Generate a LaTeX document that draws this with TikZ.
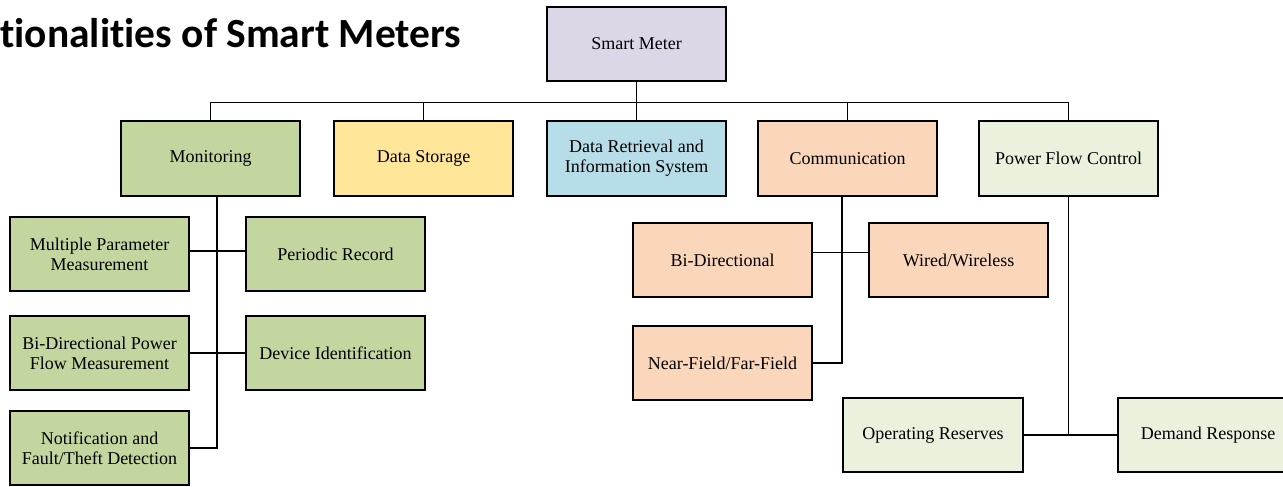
\documentclass[tikz,border=0pt]{standalone}
\usepackage{fontspec}
\setmainfont{Liberation Serif}
\newfontfamily\titlefont{Carlito}[Ligatures=NoCommon]
\begin{document}
\begin{tikzpicture}[x=1pt,y=1pt,yscale=-1,xscale=1,
  box/.style={draw=black,line width=1.8pt,minimum width=179.5pt,minimum height=74.5pt,inner sep=2pt,outer sep=0pt,align=center,font=\fontsize{18}{20}\selectfont},
  link/.style={draw=black,line width=1.6pt}]
\useasboundingbox (0,0) rectangle (1283,487);

% Text Node
\node (title) [anchor=base west,inner sep=0pt,font=\titlefont\bfseries\fontsize{41.5}{45}\selectfont] at (0,47.7) {tionalities of Smart Meters};

%Shape: Rectangle (root and first level)
\node (meter) [box,fill={rgb, 255:red, 221; green, 214; blue, 230 }] at (636.5,44) {Smart Meter};
\node (mon) [box,fill={rgb, 255:red, 196; green, 214; blue, 160 }] at (210.5,158.5) {Monitoring};
\node (storage) [box,fill={rgb, 255:red, 255; green, 230; blue, 153 }] at (423.5,158.5) {Data Storage};
\node (retrieval) [box,fill={rgb, 255:red, 183; green, 221; blue, 232 }] at (636.5,158.5) {Data Retrieval and\\Information System};
\node (comm) [box,fill={rgb, 255:red, 250; green, 215; blue, 186 }] at (847.5,158.5) {Communication};
\node (power) [box,fill={rgb, 255:red, 234; green, 241; blue, 221 }] at (1068.5,158.5) {Power Flow Control};

%Shape: Rectangle (monitoring)
\node (multi) [box,fill={rgb, 255:red, 196; green, 214; blue, 160 }] at (99.5,254) {Multiple Parameter\\Measurement};
\node (periodic) [box,fill={rgb, 255:red, 196; green, 214; blue, 160 }] at (335.5,254) {Periodic Record};
\node (bipower) [box,fill={rgb, 255:red, 196; green, 214; blue, 160 }] at (99.5,353) {Bi-Directional Power\\Flow Measurement};
\node (devid) [box,fill={rgb, 255:red, 196; green, 214; blue, 160 }] at (335.5,353) {Device Identification};
\node (notif) [box,fill={rgb, 255:red, 196; green, 214; blue, 160 }] at (99.5,448) {Notification and\\Fault/Theft Detection};

%Shape: Rectangle (communication)
\node (bidir) [box,fill={rgb, 255:red, 250; green, 215; blue, 186 }] at (722.5,260) {Bi-Directional};
\node (wired) [box,fill={rgb, 255:red, 250; green, 215; blue, 186 }] at (958.5,260) {Wired/Wireless};
\node (nearfar) [box,fill={rgb, 255:red, 250; green, 215; blue, 186 }] at (722.5,363) {Near-Field/Far-Field};

%Shape: Rectangle (power flow control)
\node (reserves) [box,fill={rgb, 255:red, 234; green, 241; blue, 221 }] at (933,435) {Operating Reserves};
\node (demand) [box,fill={rgb, 255:red, 234; green, 241; blue, 221 }] at (1208,435) {Demand Response};

%Straight Lines (bus)
\coordinate (bus) at (636.5,102.5);
\draw [link] (meter.south) -- (bus);
\draw [link] (mon.north) |- (bus) -| (power.north);
\foreach \n in {storage,retrieval,comm}
  \draw [link] (\n.north) -- (\n.north |- bus);

%Straight Lines (monitoring)
\coordinate (mspine) at (217,300);
\draw [link] (mon.south -| mspine) -- (mspine |- notif) -- (notif.east);
\draw [link] ([yshift=-3pt]multi.east) -- ([yshift=-3pt]periodic.west);
\draw [link] (bipower.east) -- (devid.west);

%Straight Lines (communication)
\coordinate (cspine) at (842,300);
\draw [link] (comm.south -| cspine) -- (cspine |- nearfar) -- (nearfar.east);
\draw [link] ([yshift=-7.7pt]bidir.east) -- ([yshift=-7.7pt]wired.west);

%Straight Lines (power flow control)
\draw [link] (power.south) -- (power.south |- reserves);
\draw [link] (reserves.east) -- (demand.west);

\end{tikzpicture}
\end{document}
